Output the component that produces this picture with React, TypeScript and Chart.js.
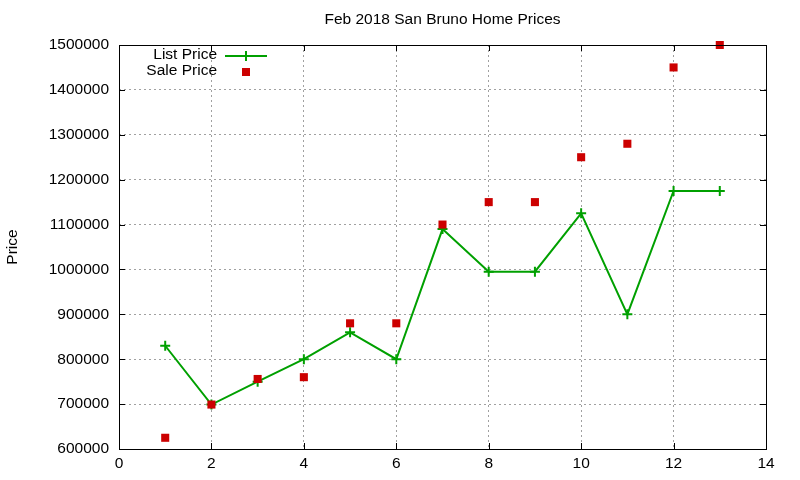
import React, { useRef, useEffect } from "react";
import { Chart, registerables } from "chart.js";

Chart.register(...registerables);

// data
const houseIndex = [1, 2, 3, 4, 5, 6, 7, 8, 9, 10, 11, 12, 13];
const listPrices = [830000, 699000, 750000, 800000, 860000, 800000, 1090000, 995000, 995000, 1125000, 900000, 1175000, 1175000];
const salePrices = [625000, 699000, 756000, 760000, 880000, 880000, 1100000, 1150000, 1150000, 1250000, 1280000, 1450000, 1500000];

const chartTitle = "Feb 2018 San Bruno Home Prices";
const yTitle = "Price";
const legendLabels = ["List Price", "Sale Price"];

const FONT = "Liberation Sans, Arial, sans-serif";
const FONT_SIZE = 15.5;
const GREEN = "#00a000";
const RED = "#cc0000";

// frame, inward ticks, title, legend (gnuplot look)
const gnuplotDecor = {
  id: "gnuplotDecor",
  afterDraw(chart: any) {
    const { ctx, chartArea, scales } = chart;
    const { left, right, top, bottom } = chartArea;
    ctx.save();
    ctx.strokeStyle = "#000";
    ctx.lineWidth = 1;
    ctx.setLineDash([]);
    ctx.strokeRect(Math.round(left) + 0.5, Math.round(top) + 0.5, Math.round(right - left), Math.round(bottom - top));

    const tl = 6;
    ctx.beginPath();
    scales.x.ticks.forEach((t: any) => {
      const px = Math.round(scales.x.getPixelForValue(t.value)) + 0.5;
      ctx.moveTo(px, bottom);
      ctx.lineTo(px, bottom - tl);
      ctx.moveTo(px, top);
      ctx.lineTo(px, top + tl);
    });
    scales.y.ticks.forEach((t: any) => {
      const py = Math.round(scales.y.getPixelForValue(t.value)) + 0.5;
      ctx.moveTo(left, py);
      ctx.lineTo(left + tl, py);
      ctx.moveTo(right, py);
      ctx.lineTo(right - tl, py);
    });
    ctx.stroke();

    ctx.fillStyle = "#000";
    ctx.font = `${FONT_SIZE}px ${FONT}`;
    ctx.textAlign = "center";
    ctx.textBaseline = "middle";
    ctx.fillText(chartTitle, (left + right) / 2, 20);

    ctx.save();
    ctx.translate(13, (top + bottom) / 2);
    ctx.rotate(-Math.PI / 2);
    ctx.fillText(yTitle, 0, 0);
    ctx.restore();

    // legend
    ctx.textAlign = "right";
    ctx.fillText(legendLabels[0], 217, 55);
    ctx.fillText(legendLabels[1], 217, 71);
    ctx.strokeStyle = GREEN;
    ctx.lineWidth = 2;
    ctx.beginPath();
    ctx.moveTo(225, 56);
    ctx.lineTo(267, 56);
    ctx.moveTo(246, 51);
    ctx.lineTo(246, 61);
    ctx.stroke();
    ctx.fillStyle = RED;
    ctx.fillRect(242, 68, 8, 8);
    ctx.restore();
  },
};

const HomePricesChart = () => {
  const canvasRef = useRef<HTMLCanvasElement>(null);
  const chartRef = useRef<Chart | null>(null);

  useEffect(() => {
    const canvas = canvasRef.current;
    if (!canvas) return;
    if (chartRef.current) chartRef.current.destroy();

    chartRef.current = new Chart(canvas, {
      type: "line",
      data: {
        datasets: [
          {
            label: legendLabels[1],
            data: houseIndex.map((x, i) => ({ x, y: salePrices[i] })),
            showLine: false,
            pointStyle: "rect",
            pointRadius: 5.7,
            pointBackgroundColor: RED,
            pointBorderColor: RED,
            pointBorderWidth: 0,
            order: 0,
            clip: false,
          },
          {
            label: legendLabels[0],
            data: houseIndex.map((x, i) => ({ x, y: listPrices[i] })),
            borderColor: GREEN,
            borderWidth: 2,
            tension: 0,
            pointStyle: "cross",
            pointRadius: 5,
            pointBorderColor: GREEN,
            pointBorderWidth: 2,
            order: 1,
            clip: false,
          },
        ],
      },
      options: {
        responsive: true,
        maintainAspectRatio: false,
        animation: false,
        layout: { padding: { top: 45, right: 34, left: 0, bottom: 0 } },
        plugins: {
          legend: { display: false },
          title: { display: false },
          tooltip: { enabled: false },
        },
        scales: {
          x: {
            type: "linear",
            min: 0,
            max: 14,
            ticks: {
              stepSize: 2,
              color: "#000",
              font: { family: FONT, size: FONT_SIZE },
              padding: 5,
              callback: (v: any) => String(v),
            },
            grid: { color: "#a0a0a0", drawTicks: false },
            border: { display: false, dash: [2, 3] },
            afterFit: (s: any) => {
              s.height = 31;
            },
          },
          y: {
            min: 600000,
            max: 1500000,
            ticks: {
              stepSize: 100000,
              color: "#000",
              font: { family: FONT, size: FONT_SIZE },
              padding: 10,
              callback: (v: any) => String(v),
            },
            grid: { color: "#a0a0a0", drawTicks: false },
            border: { display: false, dash: [2, 3] },
            afterFit: (s: any) => {
              s.width = 119;
            },
          },
        },
      },
      plugins: [gnuplotDecor],
    } as any);

    return () => {
      chartRef.current?.destroy();
      chartRef.current = null;
    };
  }, []);

  return <canvas ref={canvasRef} />;
};

export default function App() {
  return (
    <div style={{ position: "absolute", left: 0, top: 0, width: 800, height: 480, background: "#fff" }}>
      <HomePricesChart />
    </div>
  );
}
